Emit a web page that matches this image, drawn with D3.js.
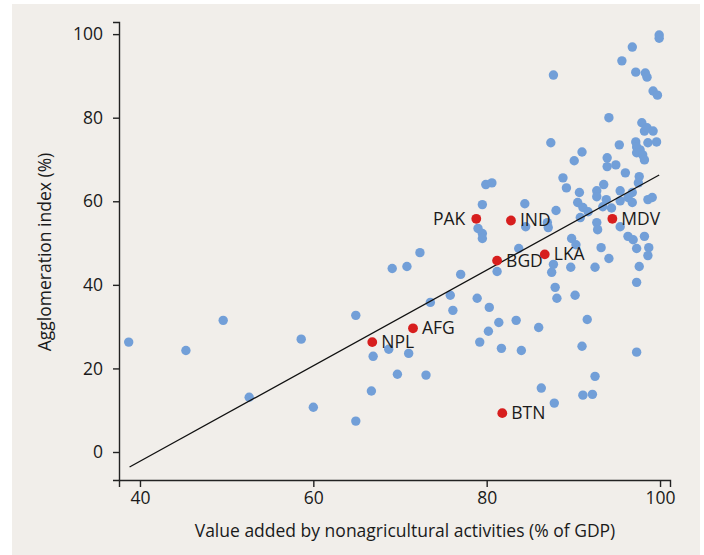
<!DOCTYPE html>
<html>
<head>
<meta charset="utf-8">
<style>
  body { margin: 0; background: #ffffff; }
  text { font-family: "Open Sans", "Noto Sans", sans-serif; fill: #1a1a1a; }
</style>
</head>
<body>
<svg id="chart" width="704" height="555"></svg>
<script src="https://d3js.org/d3.v7.min.js"></script>
<script>
// blue dots: nonagricultural value added (% of GDP) vs agglomeration index (%)
const otherX = [38.7, 45.3, 49.6, 52.6, 58.6, 60.0, 64.9, 64.9, 66.9, 66.7,
  68.7, 69.1, 69.7, 70.8, 71.0, 72.3, 73.0, 73.5, 75.8, 76.1,
  77.0, 79.0, 79.5, 79.5, 78.9, 79.2, 79.5, 79.9, 80.6, 80.2,
  80.3, 81.2, 81.4, 81.7, 83.4, 83.7, 84.0, 84.4, 84.5, 86.0,
  86.3, 87.0, 87.1, 87.4, 87.7, 87.5, 87.7, 87.9, 88.1, 87.8,
  88.0, 88.8, 89.2, 89.7, 89.8, 90.3, 90.2, 90.1, 90.7, 90.5,
  91.1, 91.7, 90.8, 91.0, 91.1, 92.2, 91.6, 91.0, 92.5, 92.7,
  92.7, 92.7, 92.8, 92.5, 93.2, 93.5, 93.9, 93.9, 94.9, 94.1,
  94.1, 95.3, 95.4, 95.4, 95.4, 95.6, 96.0, 96.3, 96.8, 96.3,
  96.9, 97.3, 96.8, 97.2, 97.6, 97.5, 97.2, 97.3, 97.7, 97.3,
  98.0, 98.2, 97.6, 97.3, 97.3, 98.2, 98.3, 98.5, 97.9, 98.2,
  98.5, 99.2, 98.6, 99.6, 98.6, 99.1, 98.7, 98.6, 99.2, 99.7,
  99.9, 99.9, 93.8, 93.4, 94.4, 96.8];
const otherY = [26.3, 24.3, 31.5, 13.1, 27.0, 10.7, 32.7, 7.4, 22.9, 14.6,
  24.6, 43.9, 18.6, 44.4, 23.6, 47.7, 18.4, 35.8, 37.5, 33.9,
  42.5, 53.5, 52.3, 51.1, 36.8, 26.3, 59.2, 64.0, 64.4, 28.9,
  34.6, 43.2, 31.0, 24.8, 31.5, 48.7, 24.3, 59.4, 53.9, 29.8,
  15.3, 54.9, 53.7, 74.0, 90.2, 43.0, 44.9, 39.4, 36.8, 11.7,
  57.8, 65.6, 63.2, 44.2, 51.1, 49.6, 37.5, 69.7, 62.1, 59.7,
  58.5, 57.5, 56.1, 25.3, 13.6, 13.8, 31.7, 71.8, 18.1, 62.5,
  61.1, 54.9, 53.2, 44.2, 48.9, 64.0, 70.4, 68.3, 68.7, 80.0,
  46.3, 73.5, 62.5, 60.1, 53.9, 93.6, 66.8, 60.9, 62.1, 51.6,
  50.8, 48.7, 96.9, 90.9, 65.9, 64.4, 74.2, 73.0, 72.3, 71.6,
  71.1, 69.9, 44.4, 40.6, 23.9, 51.6, 90.7, 89.7, 78.8, 76.8,
  77.6, 76.8, 74.0, 74.2, 60.4, 60.9, 48.9, 47.0, 86.4, 85.4,
  99.8, 99.0, 60.4, 58.7, 58.4, 59.7];

// highlighted South Asian countries
const codes = ["PAK", "IND", "BGD", "LKA", "MDV", "AFG", "NPL", "BTN"];
const codeX = [78.8, 82.8, 81.2, 86.7, 94.5, 71.5, 66.8, 81.8];
const codeY = [55.8, 55.4, 45.8, 47.3, 55.8, 29.6, 26.3, 9.3];

// fitted line end points
const fitX = [38.8, 99.9];
const fitY = [-3.6, 66.3];

const xTicks = [40, 60, 80, 100];
const yTicks = [0, 20, 40, 60, 80, 100];

const svg = d3.select('#chart');

svg.append('rect')
  .attr('x', 12).attr('y', 4)
  .attr('width', 688).attr('height', 551)
  .attr('fill', '#f1eeea');

const x = d3.scaleLinear().domain([37.58, 101.15]).range([119, 670]);
const y = d3.scaleLinear().domain([-6.7, 102.9]).range([480, 22]);

const xAxis = svg.append('g')
  .attr('transform', 'translate(0,480)')
  .call(d3.axisBottom(x).tickValues(xTicks).tickSizeOuter(0).tickSize(7).tickPadding(5));
const yAxis = svg.append('g')
  .attr('transform', 'translate(119,0)')
  .call(d3.axisLeft(y).tickValues(yTicks).tickSizeOuter(0).tickSize(6).tickPadding(10));

[xAxis, yAxis].forEach(g => {
  g.selectAll('path, line').attr('stroke', '#222').attr('stroke-width', 1.4);
  g.selectAll('text').attr('font-size', 17.5).attr('fill', '#1a1a1a')
    .attr('font-family', '"Open Sans", sans-serif');
});

svg.append('text')
  .attr('x', 405).attr('y', 537)
  .attr('text-anchor', 'middle')
  .attr('font-size', 17.5)
  .text('Value added by nonagricultural activities (% of GDP)');

svg.append('text')
  .attr('transform', 'translate(51,252) rotate(-90)')
  .attr('text-anchor', 'middle')
  .attr('font-size', 17.5)
  .text('Agglomeration index (%)');

const line = d3.line().x(d => x(d[0])).y(d => y(d[1]));

svg.append('g').selectAll('circle')
  .data(d3.zip(otherX, otherY))
  .join('circle')
  .attr('cx', d => x(d[0]))
  .attr('cy', d => y(d[1]))
  .attr('r', 4.7)
  .attr('fill', '#729fd8');

svg.append('path')
  .datum(d3.zip(fitX, fitY))
  .attr('d', line)
  .attr('fill', 'none')
  .attr('stroke', '#111')
  .attr('stroke-width', 1.3);

const hi = svg.append('g').selectAll('g')
  .data(d3.zip(codes, codeX, codeY))
  .join('g')
  .attr('transform', d => `translate(${x(d[1])},${y(d[2])})`);

hi.append('circle').attr('r', 4.9).attr('fill', '#d71e1e');

hi.append('text')
  .attr('x', d => d[0] === 'PAK' ? -11 : 9)
  .attr('y', 6)
  .attr('text-anchor', d => d[0] === 'PAK' ? 'end' : 'start')
  .attr('font-size', 17.5)
  .text(d => d[0]);
</script>
</body>
</html>
